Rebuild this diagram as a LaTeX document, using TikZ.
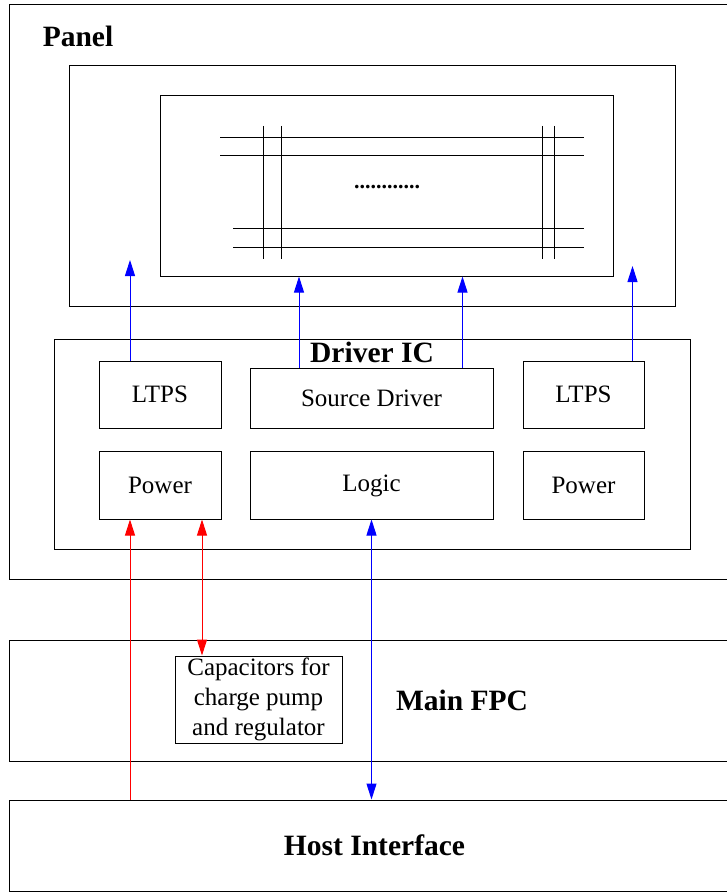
\documentclass[tikz,border=0pt]{standalone}
\usepackage{fontspec}
\setmainfont{Liberation Serif}
\usepackage{tikz}
\usetikzlibrary{arrows.meta}

\begin{document}
\begin{tikzpicture}[x=1pt,y=-1pt,>={Triangle[length=16pt,width=10pt]},
        line width=1pt]
    \tikzstyle{box}=[draw=black,rectangle,inner sep=0pt,align=center,
        font=\fontsize{25}{30}\selectfont]
    \tikzstyle{title}=[inner sep=0pt,font=\fontsize{29.5}{34}\selectfont\bfseries]
    \tikzstyle{sig}=[line width=1pt]

    \useasboundingbox (0,0) rectangle (726,893);

    % panel
    \node[box,minimum width=731pt,minimum height=574pt] (panel) at (374.5,292) {};
    \node[title] (paneltxt) at (78,36) {Panel};
    \node[box,minimum width=606pt,minimum height=240pt] (glass) at (372,186) {};
    \node[box,minimum width=453pt,minimum height=180pt] (aa) at (386.5,186) {};

    % pixel lines
    \draw (220,138) -- (584,138);
    \draw (220,156) -- (584,156);
    \draw (233,229) -- (584,229);
    \draw (233,247) -- (584,247);
    \draw (263,126) -- (263,259);
    \draw (281,126) -- (281,259);
    \draw (542,126) -- (542,259);
    \draw (554,126) -- (554,259);
    \node[inner sep=0pt,anchor=base,font=\fontsize{22}{24}\selectfont\bfseries] (dots) at (387,189) {............};

    % driver ic
    \node[box,minimum width=636pt,minimum height=210pt] (ic) at (372,444) {};
    \node[title] (ictxt) at (372,352) {Driver IC};
    \node[box,minimum width=122pt,minimum height=67pt] (ltpsL) at (160,394.5) {LTPS};
    \node[box,minimum width=243pt,minimum height=60pt] (src) at (371.5,398) {Source Driver};
    \node[box,minimum width=121pt,minimum height=67pt] (ltpsR) at (583.5,394.5) {LTPS};
    \node[box,minimum width=122pt,minimum height=68pt] (pwrL) at (160,485) {Power};
    \node[box,minimum width=243pt,minimum height=68pt] (logic) at (371.5,485) {Logic\strut};
    \node[box,minimum width=121pt,minimum height=68pt] (pwrR) at (583.5,485) {Power};

    % fpc and host
    \node[box,minimum width=731pt,minimum height=121pt] (fpc) at (374.5,700.5) {};
    \node[title] (fpctxt) at (462,700) {Main FPC};
    \node[box,minimum width=167pt,minimum height=87pt] (cap) at (258.5,699.5)
        {Capacitors for\\charge pump\\and regulator};
    \node[box,title,draw,minimum width=731pt,minimum height=91pt] (host) at (374.5,845.5)
        {Host Interface};

    \coordinate (tL) at (130,260);
    \coordinate (tR) at (632.5,266);
    \coordinate (s1) at (299,0);
    \coordinate (s2) at (462.5,0);
    \coordinate (r1) at (130,0);
    \coordinate (r2) at (202,0);

    \draw[->,blue] (ltpsL.north -| tL) -- (tL);
    \draw[->,blue] (ltpsR.north -| tR) -- (tR);
    \draw[->,blue] (src.north -| s1) -- (aa.south -| s1);
    \draw[->,blue] (src.north -| s2) -- (aa.south -| s2);
    \draw[->,red] (host.north -| r1) -- (pwrL.south -| r1);
    \draw[<->,red] (pwrL.south -| r2) -- (cap.north -| r2);
    \draw[<->,blue] (logic.south) -- (logic.south |- host.north);
\end{tikzpicture}
\end{document}
